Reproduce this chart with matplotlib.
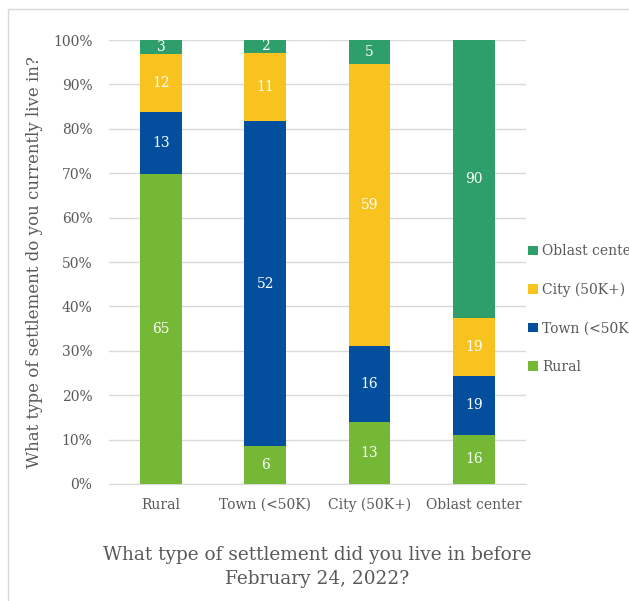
import matplotlib.pyplot as plt
import numpy as np
from matplotlib.patches import Rectangle

# settlement before the war (x) vs. settlement now (stacks)
categories = ["Rural", "Town (<50K)", "City (50K+)", "Oblast center"]
series_names = ["Rural", "Town (<50K)", "City (50K+)", "Oblast center"]
rural = [65, 6, 13, 16]
town = [13, 52, 16, 19]
city = [12, 11, 59, 19]
oblast = [3, 2, 5, 90]
colors = ["#75B836", "#044E9E", "#F8C21F", "#2E9F6A"]

GRAY = "#595959"
plt.rcParams["font.family"] = ["DejaVu Serif"]

fig = plt.figure(figsize=(6.29, 6.01), dpi=100)
ax = fig.add_axes([0.1733, 0.1947, 0.6627, 0.7387])

# thin frame around the chart area
fig.patches.append(
    Rectangle((8 / 629, -0.1), 1.0, 1 - 9 / 601 + 0.1, transform=fig.transFigure,
              fill=False, edgecolor="#D9D9D9", linewidth=1.0)
)

data = np.array([rural, town, city, oblast], dtype=float)
totals = data.sum(axis=0)
shares = data / totals * 100

x = np.arange(len(categories))
bottom = np.zeros(len(categories))
handles = []
for i, name in enumerate(series_names):
    bars = ax.bar(x, shares[i], 0.4, bottom=bottom, color=colors[i], label=name, zorder=3)
    handles.append(bars)
    for j in range(len(categories)):
        ax.text(x[j], bottom[j] + shares[i][j] / 2, f"{int(data[i][j])}",
                ha="center", va="center", color="white", fontsize=10, zorder=4)
    bottom += shares[i]

ax.set_xlim(-0.5, len(categories) - 0.5)
ax.set_ylim(0, 100)
ax.set_yticks(np.arange(0, 101, 10))
ax.set_yticklabels([f"{v}%" for v in range(0, 101, 10)])
ax.set_xticks(x)
ax.set_xticklabels(categories)
ax.tick_params(axis="both", length=0, colors=GRAY, labelsize=10)
ax.tick_params(axis="y", pad=12)
ax.tick_params(axis="x", pad=10)
ax.grid(axis="y", color="#D9D9D9", linewidth=1.0, zorder=0)
for s in ["top", "right", "left"]:
    ax.spines[s].set_visible(False)
ax.spines["bottom"].set_color("#D9D9D9")

ax.set_ylabel("What type of settlement do you currently live in?", color=GRAY,
              fontsize=12, labelpad=7)
ax.set_xlabel("What type of settlement did you live in before\nFebruary 24, 2022?",
              color=GRAY, fontsize=13.3, labelpad=24, linespacing=1.45)

leg = ax.legend(handles[::-1], series_names[::-1], loc="center left",
                bbox_to_anchor=(0.975, 0.394), frameon=False, fontsize=10,
                handlelength=0.7, handleheight=0.7, handletextpad=0.3,
                labelspacing=1.75, labelcolor=GRAY)

fig.savefig("out.png", dpi=100)
